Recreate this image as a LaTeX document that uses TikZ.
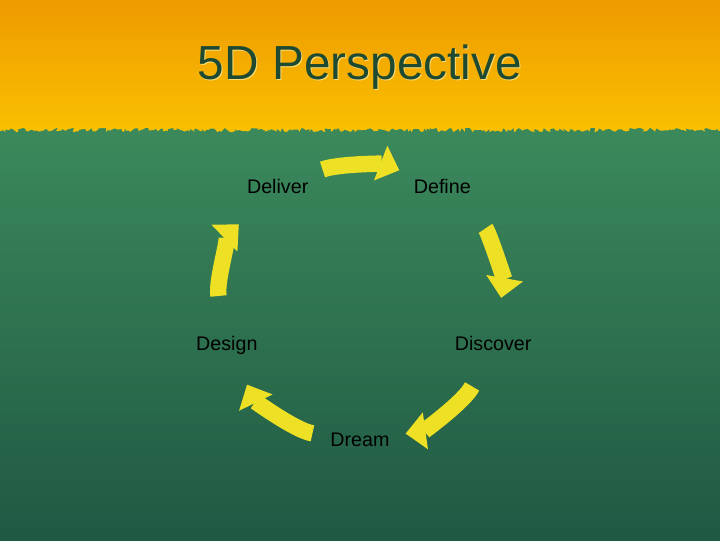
\documentclass[tikz,border=0pt]{standalone}
\usepackage{fontspec}
\setmainfont{Liberation Sans}
\usetikzlibrary{arrows.meta, decorations.pathmorphing}
\definecolor{bandtop}{RGB}{236,148,0}
\definecolor{bandbot}{RGB}{250,192,0}
\definecolor{seatop}{RGB}{60,138,92}
\definecolor{seabot}{RGB}{30,86,66}
\definecolor{chalk}{RGB}{238,224,36}
\definecolor{titleink}{RGB}{30,74,50}
\definecolor{titleglow}{RGB}{252,222,120}
\tikzstyle{cyclearrow} = [line width=0.41cm, draw=chalk, -{Triangle[length=0.5cm,width=0.9cm]}, shorten <=1.2cm, shorten >=1.15cm, bend left=28]

\begin{document}
\begin{tikzpicture}[x=0.025cm, y=0.025cm,
		stage/.style={
			font=\fontsize{14}{16}\selectfont,
			text=black,
			text depth=0pt,
			inner sep=0pt},
		heading/.style={
			font=\fontsize{34}{40}\selectfont,
			anchor=base}]

		\useasboundingbox (0,0) rectangle (720,540);
		\begin{scope}
			\clip (0,0) rectangle (720,540);
			\shade[top color=seatop, bottom color=seabot] (-20,-20) rectangle (740,420);
			\shade[top color=bandtop, bottom color=bandbot, decorate, decoration={random steps, segment length=1.5pt, amplitude=1.6pt}] (-20,560) rectangle (740,410);
		\end{scope}

		\node (titleshadow) [heading, text=titleglow] at (361,459) {5D Perspective};
		\node (title) [heading, text=titleink] at (360,460) {5D Perspective};

		\coordinate (hub) at (360,240);
		\node (deliver) [stage] at ([shift={(126:140)}]hub) {Deliver};
		\node (define) [stage] at ([shift={(54:140)}]hub) {Define};
		\node (discover) [stage] at ([shift={(-18:140)}]hub) {Discover};
		\node (dream) [stage] at ([shift={(-90:140)}]hub) {Dream};
		\node (design) [stage] at ([shift={(198:140)}]hub) {Design};

		\draw[cyclearrow, bend left=21] (deliver.center) to (define.center);
		\draw[cyclearrow, shorten <=1.5cm] (define.center) to (discover.center);
		\draw[cyclearrow] (discover.center) to (dream.center);
		\draw[cyclearrow] (dream.center) to (design.center);
		\draw[cyclearrow, shorten >=1.35cm] (design.center) to (deliver.center);
	\end{tikzpicture}
\end{document}
